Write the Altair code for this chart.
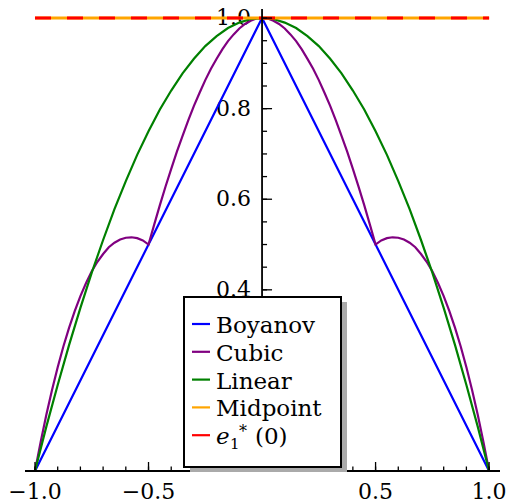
import altair as alt
import pandas as pd

# ---- series values ----------------------------------------------------
BOYANOV_X = [-1.0, 0.0, 1.0]
BOYANOV_Y = [0.0, 1.0, 0.0]

CUBIC_X = [round(-1.0 + 0.025 * i, 3) for i in range(81)]
CUBIC_Y = [
    0.000, 0.064, 0.124, 0.179, 0.229, 0.275, 0.316, 0.353, 0.386, 0.415,
    0.441, 0.462, 0.479, 0.494, 0.504, 0.511, 0.515, 0.516, 0.514, 0.509,
    0.500, 0.544, 0.587, 0.628, 0.667, 0.705, 0.740, 0.774, 0.806, 0.835,
    0.863, 0.888, 0.910, 0.931, 0.949, 0.964, 0.977, 0.987, 0.994, 0.999,
    1.000,
    0.999, 0.994, 0.987, 0.977, 0.964, 0.949, 0.931, 0.910, 0.888, 0.863,
    0.835, 0.806, 0.774, 0.740, 0.705, 0.667, 0.628, 0.587, 0.544, 0.500,
    0.509, 0.514, 0.516, 0.515, 0.511, 0.504, 0.494, 0.479, 0.462, 0.441,
    0.415, 0.386, 0.353, 0.316, 0.275, 0.229, 0.179, 0.124, 0.064, 0.000,
]

LINEAR_X = [round(-1.0 + 0.05 * i, 3) for i in range(41)]
LINEAR_Y = [
    0.000, 0.098, 0.190, 0.278, 0.360, 0.438, 0.510, 0.578, 0.640, 0.698,
    0.750, 0.798, 0.840, 0.878, 0.910, 0.938, 0.960, 0.978, 0.990, 0.998,
    1.000,
    0.998, 0.990, 0.978, 0.960, 0.938, 0.910, 0.878, 0.840, 0.798, 0.750,
    0.698, 0.640, 0.578, 0.510, 0.438, 0.360, 0.278, 0.190, 0.098, 0.000,
]

MIDPOINT_X = [-1.0, 1.0]
MIDPOINT_Y = [1.0, 1.0]
E1_X = [-1.0, 1.0]
E1_Y = [1.0, 1.0]

# ---- axis ticks and labels ---------------------------------------------
X_MINOR = [-1.0, -0.9, -0.8, -0.7, -0.6, -0.5, -0.4, -0.3, -0.2, -0.1,
           0.1, 0.2, 0.3, 0.4, 0.5, 0.6, 0.7, 0.8, 0.9, 1.0]
X_MAJOR = [-1.0, -0.5, 0.5, 1.0]
X_LABELS = ["\u22121.0", "\u22120.5", "0.5", "1.0"]
Y_MINOR = [0.05, 0.10, 0.15, 0.20, 0.25, 0.30, 0.35, 0.40, 0.45, 0.50,
           0.55, 0.60, 0.65, 0.70, 0.75, 0.80, 0.85, 0.90, 0.95, 1.00]
Y_MAJOR = [0.2, 0.4, 0.6, 0.8, 1.0]
# the 0.2 label sits behind the legend box, so only these are shown
Y_LABEL_AT = [0.4, 0.6, 0.8, 1.0]
Y_LABELS = ["0.4", "0.6", "0.8", "1.0"]

# ---- layout -------------------------------------------------------------
W, H = 475, 462
XMIN, XMAX = -1.044, 1.048
YMIN, YMAX = 0.0, 1.02
X0 = W * (0 - XMIN) / (XMAX - XMIN)  # pixel column of x = 0
FONT = "DejaVu Serif"
TICK_FS = 22
LEG_FS = 23

xs = alt.Scale(domain=[XMIN, XMAX], nice=False, zero=False)
ys = alt.Scale(domain=[YMIN, YMAX], nice=False, zero=False)
one = alt.Data(values=[{}])


def curve(xv, yv, color, width, dash=None):
    df = pd.DataFrame({"x": xv, "y": yv})
    kw = dict(color=color, strokeWidth=width, clip=False)
    if dash:
        kw["strokeDash"] = dash
    return alt.Chart(df).mark_line(**kw).encode(
        x=alt.X("x:Q", scale=xs, axis=None),
        y=alt.Y("y:Q", scale=ys, axis=None),
        order="x:Q",
    )


# tick labels (drawn underneath the curves)
x_lab = alt.Chart(pd.DataFrame({"v": X_MAJOR, "t": X_LABELS})).mark_text(
    font=FONT, fontSize=TICK_FS, align="center", baseline="alphabetic", color="black"
).encode(x=alt.X("v:Q", scale=xs, axis=None), y=alt.value(H + 28), text="t:N")

y_lab = alt.Chart(pd.DataFrame({"v": Y_LABEL_AT, "t": Y_LABELS})).mark_text(
    font=FONT, fontSize=TICK_FS, align="right", baseline="middle", color="black"
).encode(x=alt.value(X0 - 11), y=alt.Y("v:Q", scale=ys, axis=None), text="t:N")

# curves
blue = curve(BOYANOV_X, BOYANOV_Y, "#0000ff", 2.2)
purple = curve(CUBIC_X, CUBIC_Y, "#800080", 2.2)
green = curve(LINEAR_X, LINEAR_Y, "#008000", 2.2)
orange = curve(MIDPOINT_X, MIDPOINT_Y, "#ffa500", 3)
red = curve(E1_X, E1_Y, "#ff0000", 3, dash=[16, 16])

# axes through the origin
x_axis = alt.Chart(one).mark_rule(color="black", strokeWidth=1.8).encode(
    x=alt.value(0), x2=alt.value(W),
    y=alt.Y(datum=0, type="quantitative", scale=ys, axis=None),
)
y_axis = alt.Chart(one).mark_rule(color="black", strokeWidth=1.8).encode(
    x=alt.X(datum=0, type="quantitative", scale=xs, axis=None),
    y=alt.Y(datum=YMIN, type="quantitative", scale=ys, axis=None),
    y2=alt.Y2(datum=YMAX),
)
x_minor = alt.Chart(pd.DataFrame({"v": X_MINOR})).mark_rule(
    color="black", strokeWidth=1.3
).encode(x=alt.X("v:Q", scale=xs, axis=None), y=alt.value(H), y2=alt.value(H - 4.5))
x_major = alt.Chart(pd.DataFrame({"v": X_MAJOR})).mark_rule(
    color="black", strokeWidth=1.3
).encode(x=alt.X("v:Q", scale=xs, axis=None), y=alt.value(H), y2=alt.value(H - 9))
y_minor = alt.Chart(pd.DataFrame({"v": Y_MINOR})).mark_rule(
    color="black", strokeWidth=1.3
).encode(x=alt.value(X0), x2=alt.value(X0 + 5), y=alt.Y("v:Q", scale=ys, axis=None))
y_major = alt.Chart(pd.DataFrame({"v": Y_MAJOR})).mark_rule(
    color="black", strokeWidth=1.3
).encode(x=alt.value(X0), x2=alt.value(X0 + 10), y=alt.Y("v:Q", scale=ys, axis=None))

# legend box with drop shadow
LX0, LX1, LY0, LY1 = 159, 316, 288, 458
shadow = alt.Chart(one).mark_rect(color="#aaaaaa").encode(
    x=alt.value(LX0 + 6), x2=alt.value(LX1 + 6),
    y=alt.value(LY0 + 5), y2=alt.value(LY1 + 5),
)
box = alt.Chart(one).mark_rect(fill="white", stroke="black", strokeWidth=2).encode(
    x=alt.value(LX0), x2=alt.value(LX1), y=alt.value(LY0), y2=alt.value(LY1),
)

entries = [
    ("Boyanov", "#0000ff"),
    ("Cubic", "#800080"),
    ("Linear", "#008000"),
    ("Midpoint", "#ffa500"),
    (None, "#ff0000"),
]
legend_layers = []
ROW0, ROWH = 315, 27.8
TX = 191
for i, (name, col) in enumerate(entries):
    ly = ROW0 + i * ROWH
    legend_layers.append(
        alt.Chart(one).mark_rule(color=col, strokeWidth=2.2).encode(
            x=alt.value(167), x2=alt.value(185), y=alt.value(ly)
        )
    )
    txt = dict(font=FONT, color="black", align="left", baseline="alphabetic")
    if name is not None:
        legend_layers.append(
            alt.Chart(one).mark_text(fontSize=LEG_FS, **txt).encode(
                x=alt.value(TX), y=alt.value(ly + 9), text=alt.value(name)
            )
        )
    else:
        # e_1^* (0)
        legend_layers += [
            alt.Chart(one).mark_text(fontSize=LEG_FS, fontStyle="italic", **txt).encode(
                x=alt.value(TX), y=alt.value(ly + 9), text=alt.value("e")
            ),
            alt.Chart(one).mark_text(fontSize=15, **txt).encode(
                x=alt.value(TX + 14), y=alt.value(ly + 14), text=alt.value("1")
            ),
            alt.Chart(one).mark_text(fontSize=16, **txt).encode(
                x=alt.value(TX + 23), y=alt.value(ly + 2), text=alt.value("*")
            ),
            alt.Chart(one).mark_text(fontSize=LEG_FS, **txt).encode(
                x=alt.value(TX + 39), y=alt.value(ly + 9), text=alt.value("(0)")
            ),
        ]

chart = alt.layer(
    x_lab, y_lab,
    blue, purple, green, orange, red,
    x_axis, y_axis, x_minor, x_major, y_minor, y_major,
    shadow, box, *legend_layers,
).properties(
    width=W, height=H,
    autosize=alt.AutoSizeParams(type="none"),
    padding={"left": 25, "top": 9, "right": 8, "bottom": 32},
).configure_view(stroke=None)

chart.save("out.html", embed_options={"renderer": "svg", "actions": False})
